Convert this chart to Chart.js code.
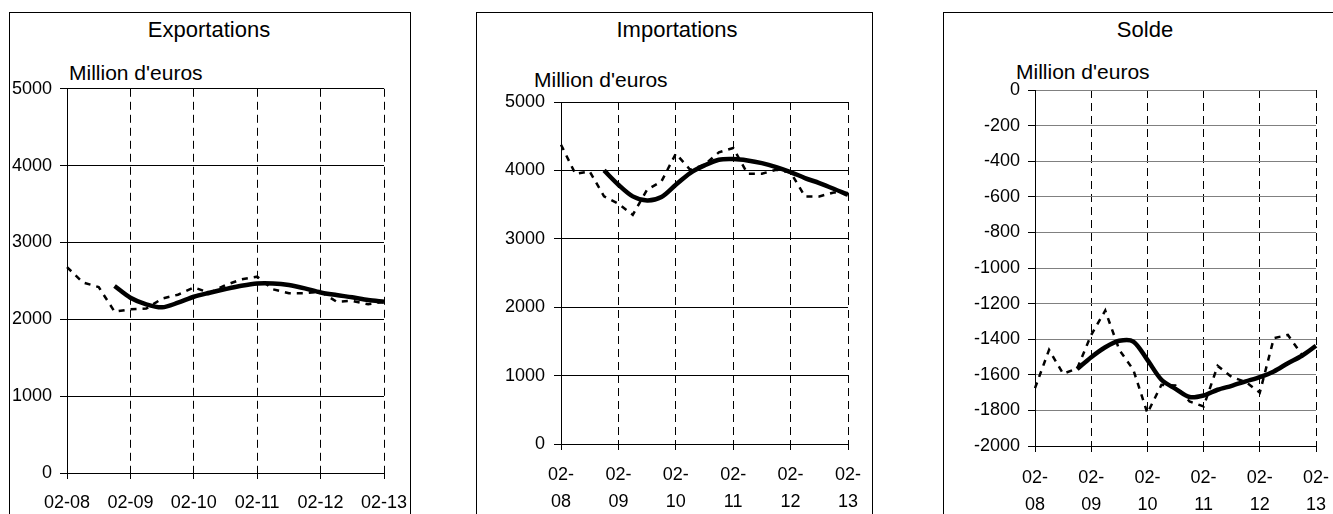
<!DOCTYPE html>
<html lang="fr">
<head>
  <meta charset="UTF-8">
  <title>Exportations, Importations, Solde</title>
  <script src="https://cdn.jsdelivr.net/npm/chart.js"></script>
  <style>
    body { margin: 0; background: #fff; overflow: hidden; font-family: "Liberation Sans", Arial, sans-serif; }
    .box { position: absolute; top: 12px; height: 520px; border: 1px solid #000; box-sizing: border-box; }
    .title { position: absolute; top: 19px; font-size: 22px; line-height: 1; transform: translateX(-50%); white-space: nowrap; }
    .unit { position: absolute; font-size: 21px; line-height: 1; white-space: nowrap; }
    canvas { position: absolute; }
  </style>
</head>
<body>
  <!-- three framed panels -->
  <div class="box" style="left:9px; width:402px;"></div>
  <div class="box" style="left:476px; width:397px;"></div>
  <div class="box" style="left:943px; width:420px;"></div>

  <div class="title" style="left:209px;">Exportations</div>
  <div class="title" style="left:677px;">Importations</div>
  <div class="title" style="left:1145px;">Solde</div>

  <div class="unit" style="left:69px; top:62px;">Million d'euros</div>
  <div class="unit" style="left:534px; top:69px;">Million d'euros</div>
  <div class="unit" style="left:1016px; top:61px;">Million d'euros</div>

  <canvas id="exportChart" width="404" height="444" style="left:8px; top:70px;"></canvas>
  <canvas id="importChart" width="394" height="434" style="left:478px; top:80px;"></canvas>
  <canvas id="balanceChart" width="388" height="446" style="left:945px; top:68px;"></canvas>

  <script>
    // quarterly points, Feb 2008 .. Feb 2013
    const quarters = ['02-08', '05-08', '08-08', '11-08', '02-09', '05-09', '08-09', '11-09',
                      '02-10', '05-10', '08-10', '11-10', '02-11', '05-11', '08-11', '11-11',
                      '02-12', '05-12', '08-12', '11-12', '02-13'];
    const yearTicks = ['02-08', '02-09', '02-10', '02-11', '02-12', '02-13'];

    // Exportations (raw = dashed, trend = thick)
    const exportsRaw = [2680, 2480, 2420, 2100, 2130, 2140, 2270, 2320, 2415, 2345, 2445,
                        2520, 2555, 2390, 2340, 2340, 2360, 2230, 2240, 2195, 2230];
    const exportsTrend = [null, null, null, 2433, 2281, 2195, 2156, 2216, 2294, 2346, 2394,
                          2437, 2467, 2467, 2446, 2403, 2350, 2316, 2286, 2251, 2229];

    // Importations
    const importsRaw = [4376, 3951, 3985, 3620, 3512, 3351, 3717, 3839, 4244, 4010, 4083,
                        4263, 4327, 3951, 3951, 4010, 3971, 3620, 3620, 3678, 3668];
    const importsTrend = [null, null, null, 4000, 3790, 3620, 3561, 3610, 3790, 3961, 4073,
                          4156, 4166, 4146, 4107, 4049, 3976, 3888, 3815, 3732, 3644];

    // Solde
    const balanceRaw = [-1675, -1460, -1594, -1565, -1376, -1239, -1460, -1572, -1815, -1656, -1660,
                        -1750, -1778, -1550, -1613, -1640, -1700, -1394, -1376, -1488, -1437];
    const balanceTrend = [null, null, null, -1568, -1501, -1445, -1409, -1413, -1516, -1628, -1679,
                          -1725, -1716, -1684, -1662, -1637, -1613, -1581, -1535, -1493, -1437];

    function makeChart(id, raw, trend, cfg) {
      const ctx = document.getElementById(id).getContext('2d');
      const yearOnly = (c) => (c.index % 4 === 0 ? '#000' : 'rgba(0,0,0,0)');
      return new Chart(ctx, {
        type: 'line',
        data: {
          labels: quarters,
          datasets: [
            { data: raw, borderColor: '#000', borderWidth: 2.5, borderDash: [6, 6],
              pointRadius: 0, tension: 0, fill: false },
            { data: trend, borderColor: '#000', borderWidth: 4.5,
              pointRadius: 0, tension: 0.3, fill: false, spanGaps: false }
          ]
        },
        options: {
          responsive: false,
          animation: false,
          events: [],
          layout: { padding: { left: 0, top: cfg.padTop, right: cfg.padRight, bottom: 0 } },
          plugins: { legend: { display: false }, tooltip: { enabled: false } },
          scales: {
            x: {
              type: 'category',
              grid: { color: yearOnly, tickColor: yearOnly, tickLength: 6, lineWidth: 1 },
              border: { color: '#000', width: 1, dash: [8, 5] },
              ticks: {
                autoSkip: false, maxRotation: 0, minRotation: 0, color: '#000',
                padding: cfg.xPad,
                font: { family: '"Liberation Sans", Arial, sans-serif', size: 18, lineHeight: cfg.lineHeight },
                callback: (v, i) => (i % 4 === 0 ? cfg.xLabel(yearTicks[i / 4]) : '')
              },
              afterFit: (s) => {
                s.height = cfg.xHeight;
                // let layout.padding alone decide the right/left margins
                s.paddingLeft = 0;
                s.paddingRight = 0;
              }
            },
            y: {
              min: cfg.min, max: cfg.max,
              grid: { color: cfg.gridColor, tickColor: '#000', tickLength: 7, lineWidth: 1 },
              border: { color: '#000', width: 1 },
              ticks: {
                stepSize: cfg.step, color: '#000', padding: cfg.yPad,
                font: { family: '"Liberation Sans", Arial, sans-serif', size: 18 },
                callback: (v) => String(v)
              },
              afterFit: (s) => { s.width = cfg.yWidth; }
            }
          }
        }
      });
    }

    const oneLine = (t) => t;
    const twoLines = (t) => [t.slice(0, 3), t.slice(3)];

    makeChart('exportChart', exportsRaw, exportsTrend, {
      min: 0, max: 5000, step: 1000, gridColor: '#000',
      padTop: 18, padRight: 28, yWidth: 59, yPad: 8, xHeight: 41, xPad: 13,
      lineHeight: 1.2, xLabel: oneLine
    });
    makeChart('importChart', importsRaw, importsTrend, {
      min: 0, max: 5000, step: 1000, gridColor: '#000',
      padTop: 22, padRight: 24, yWidth: 83, yPad: 9, xHeight: 70, xPad: 12,
      lineHeight: 1.5, xLabel: twoLines
    });
    makeChart('balanceChart', balanceRaw, balanceTrend, {
      min: -2000, max: 0, step: 200, gridColor: '#808080',
      padTop: 22, padRight: 17, yWidth: 90, yPad: 8, xHeight: 68, xPad: 13,
      lineHeight: 1.5, xLabel: twoLines
    });
  </script>
</body>
</html>
